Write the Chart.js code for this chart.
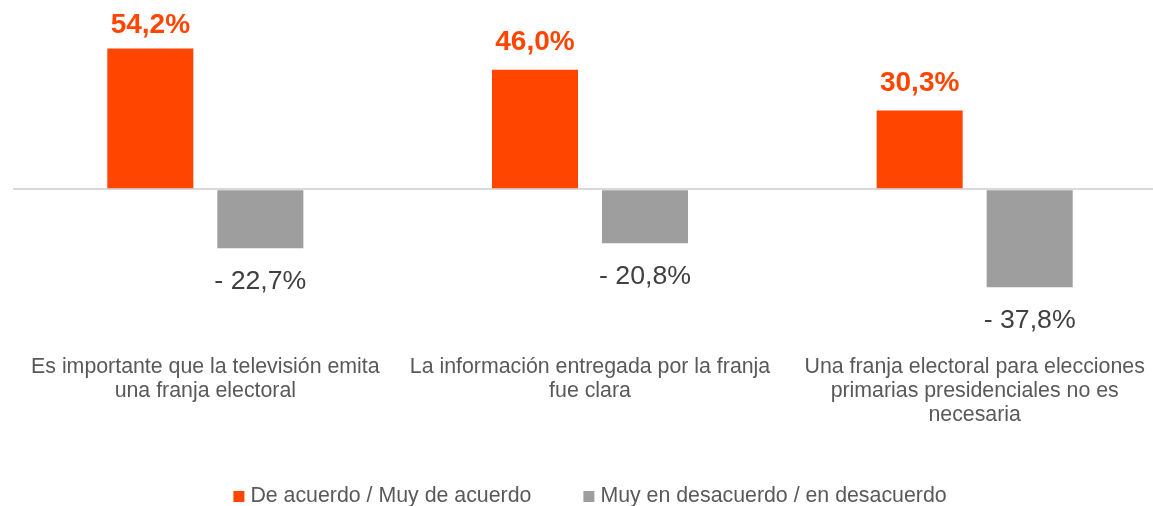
<!DOCTYPE html>
<html lang="es">
<head>
<meta charset="utf-8">
<title>Franja electoral</title>
<script src="https://cdn.jsdelivr.net/npm/chart.js@4.4.1/dist/chart.umd.min.js"></script>
<style>
  html, body { margin: 0; padding: 0; background: #fff; overflow: hidden; }
  #wrap { position: relative; width: 1167px; height: 506px; }
</style>
</head>
<body>
<div id="wrap"><canvas id="chart"></canvas></div>
<script>
const FONT = '"Liberation Sans", Arial, sans-serif';

const categories = [
  ["Es importante que la televisión emita", "una franja electoral"],
  ["La información entregada por la franja", "fue clara"],
  ["Una franja electoral para elecciones", "primarias presidenciales no es", "necesaria"],
];
const seriesNames = ["De acuerdo / Muy de acuerdo", "Muy en desacuerdo / en desacuerdo"];
const agreeValues = [54.2, 46.0, 30.3];
const disagreeValues = [-22.7, -20.8, -37.8];
const seriesColors = ["#ff4500", "#9e9e9e"];

// "54,2%" for positives, "- 22,7%" for negatives
const formatValue = (v) => (v < 0 ? "- " : "") + Math.abs(v).toFixed(1).replace(".", ",") + "%";

// Value labels above positive bars and below negative bars.
const valueLabels = {
  id: "valueLabels",
  afterDatasetsDraw(chart) {
    const { ctx, chartArea } = chart;
    ctx.save();
    ctx.textAlign = "center";
    ctx.textBaseline = "alphabetic";
    chart.data.datasets.forEach((ds, di) => {
      const meta = chart.getDatasetMeta(di);
      meta.data.forEach((bar, i) => {
        const v = ds.data[i];
        if (v >= 0) {
          ctx.font = `bold 28px ${FONT}`;
          ctx.fillStyle = seriesColors[0];
          ctx.fillText(formatValue(v), bar.x, Math.max(bar.y - 20, chartArea.top + 33));
        } else {
          ctx.font = `26.7px ${FONT}`;
          ctx.fillStyle = "#404040";
          ctx.fillText(formatValue(v), bar.x, bar.y + 41);
        }
      });
    });
    ctx.restore();
  },
};

// Legend row at the bottom, centred on the plot area.
const bottomLegend = {
  id: "bottomLegend",
  afterDraw(chart) {
    const { ctx, chartArea } = chart;
    const box = 11, gapBox = 6, gapItem = 52;
    ctx.save();
    ctx.font = `21.33px ${FONT}`;
    const widths = chart.data.datasets.map((ds) => ctx.measureText(ds.label).width);
    const total = widths.reduce((a, w) => a + box + gapBox + w, 0) + gapItem * (widths.length - 1);
    let x = (chartArea.left + chartArea.right) / 2 - total / 2;
    const base = chart.height - 4;
    chart.data.datasets.forEach((ds, i) => {
      ctx.fillStyle = ds.backgroundColor;
      ctx.fillRect(x, base - 11, box, box);
      x += box + gapBox;
      ctx.fillStyle = "#595959";
      ctx.textBaseline = "alphabetic";
      ctx.fillText(ds.label, x, base);
      x += widths[i] + gapItem;
    });
    ctx.restore();
  },
};

new Chart(document.getElementById("chart"), {
  type: "bar",
  data: {
    labels: categories,
    datasets: [
      { label: seriesNames[0], data: agreeValues, backgroundColor: seriesColors[0] },
      { label: seriesNames[1], data: disagreeValues, backgroundColor: seriesColors[1] },
    ],
  },
  options: {
    responsive: true,
    maintainAspectRatio: false,
    animation: false,
    devicePixelRatio: 1,
    layout: { padding: { left: 13, right: 0, top: 0, bottom: 71 } },
    datasets: { bar: { categoryPercentage: 0.572, barPercentage: 0.782, borderWidth: 0 } },
    plugins: { legend: { display: false }, tooltip: { enabled: false } },
    scales: {
      x: {
        grid: { display: false },
        border: { display: false },
        ticks: {
          color: "#595959",
          padding: 8,
          maxRotation: 0,
          autoSkip: false,
          font: { family: FONT, size: 21.33, lineHeight: 1.125 },
        },
      },
      y: {
        min: -57.7,
        max: 72.9,
        z: 1,
        border: { display: false },
        ticks: { display: false, stepSize: 10 },
        grid: {
          drawTicks: false,
          lineWidth: 2,
          color: (c) => (c.tick && c.tick.value === 0 ? "#d9d9d9" : "rgba(0,0,0,0)"),
        },
      },
    },
  },
  plugins: [valueLabels, bottomLegend],
});
</script>
</body>
</html>
